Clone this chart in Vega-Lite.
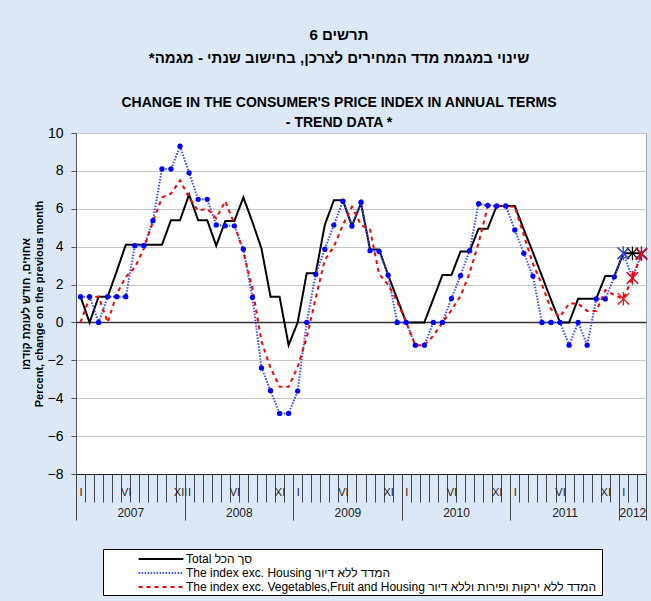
{
  "$schema": "https://vega.github.io/schema/vega-lite/v6.json",
  "width": 570,
  "height": 341,
  "autosize": {"type": "none"},
  "padding": {"left": 76, "top": 133, "right": 5, "bottom": 127},
  "background": "#dce8f6",
  "config": {
    "font": "Liberation Sans",
    "view": {"fill": "white", "stroke": "#a6a6a6"},
    "axisY": {
      "values": [-8,-6,-4,-2,0,2,4,6,8,10],
      "tickCount": 10,
      "labelOverlap": false,
      "labelSeparation": 0
    }
  },
  "title": {
    "text": ["תרשים 6", "שינוי במגמת מדד המחירים לצרכן, בחישוב שנתי - מגמה*\u200f"],
    "subtitle": ["CHANGE IN THE CONSUMER'S PRICE INDEX IN ANNUAL TERMS", "- TREND DATA *"],
    "anchor": "middle",
    "dx": -22,
    "fontSize": 15,
    "fontWeight": "bold",
    "lineHeight": 23,
    "color": "black",
    "subtitleFontSize": 14,
    "subtitleFontWeight": "bold",
    "subtitleLineHeight": 20,
    "subtitlePadding": 30,
    "subtitleColor": "black",
    "offset": -4
  },
  "data": {"values": [
    {"i":0,"s":"T","v":1.36},{"i":1,"s":"T","v":0},{"i":2,"s":"T","v":1.36},{"i":3,"s":"T","v":1.36},{"i":4,"s":"T","v":2.7},{"i":5,"s":"T","v":4.1},{"i":6,"s":"T","v":4.1},{"i":7,"s":"T","v":4.1},{"i":8,"s":"T","v":4.1},{"i":9,"s":"T","v":4.1},
    {"i":10,"s":"T","v":5.4},{"i":11,"s":"T","v":5.4},{"i":12,"s":"T","v":6.75},{"i":13,"s":"T","v":5.4},{"i":14,"s":"T","v":5.4},{"i":15,"s":"T","v":4.05},{"i":16,"s":"T","v":5.35},{"i":17,"s":"T","v":5.35},{"i":18,"s":"T","v":6.6},{"i":19,"s":"T","v":5.3},
    {"i":20,"s":"T","v":3.9},{"i":21,"s":"T","v":1.36},{"i":22,"s":"T","v":1.36},{"i":23,"s":"T","v":-1.2},{"i":24,"s":"T","v":0},{"i":25,"s":"T","v":2.6},{"i":26,"s":"T","v":2.6},{"i":27,"s":"T","v":5.15},{"i":28,"s":"T","v":6.45},{"i":29,"s":"T","v":6.45},
    {"i":30,"s":"T","v":5.1},{"i":31,"s":"T","v":6.3},{"i":32,"s":"T","v":3.85},{"i":33,"s":"T","v":3.85},{"i":34,"s":"T","v":2.5},{"i":35,"s":"T","v":1.25},{"i":36,"s":"T","v":0},{"i":37,"s":"T","v":0},{"i":38,"s":"T","v":0},{"i":39,"s":"T","v":1.25},
    {"i":40,"s":"T","v":2.5},{"i":41,"s":"T","v":2.5},{"i":42,"s":"T","v":3.75},{"i":43,"s":"T","v":3.75},{"i":44,"s":"T","v":4.95},{"i":45,"s":"T","v":4.95},{"i":46,"s":"T","v":6.15},{"i":47,"s":"T","v":6.15},{"i":48,"s":"T","v":6.15},{"i":49,"s":"T","v":4.9},
    {"i":50,"s":"T","v":3.7},{"i":51,"s":"T","v":2.45},{"i":52,"s":"T","v":1.2},{"i":53,"s":"T","v":0},{"i":54,"s":"T","v":0},{"i":55,"s":"T","v":1.25},{"i":56,"s":"T","v":1.25},{"i":57,"s":"T","v":1.25},{"i":58,"s":"T","v":2.45},{"i":59,"s":"T","v":2.45},
    {"i":60,"s":"T","v":3.65},{"i":61,"s":"T","v":3.65},{"i":62,"s":"T","v":3.65},
    {"i":0,"s":"H","v":1.36},{"i":1,"s":"H","v":1.36},{"i":2,"s":"H","v":0},{"i":3,"s":"H","v":1.36},{"i":4,"s":"H","v":1.36},{"i":5,"s":"H","v":1.36},{"i":6,"s":"H","v":4.05},{"i":7,"s":"H","v":4.05},{"i":8,"s":"H","v":5.37},{"i":9,"s":"H","v":8.1},
    {"i":10,"s":"H","v":8.1},{"i":11,"s":"H","v":9.3},{"i":12,"s":"H","v":7.9},{"i":13,"s":"H","v":6.5},{"i":14,"s":"H","v":6.5},{"i":15,"s":"H","v":5.15},{"i":16,"s":"H","v":5.1},{"i":17,"s":"H","v":5.1},{"i":18,"s":"H","v":3.87},{"i":19,"s":"H","v":1.32},
    {"i":20,"s":"H","v":-2.4},{"i":21,"s":"H","v":-3.6},{"i":22,"s":"H","v":-4.8},{"i":23,"s":"H","v":-4.8},{"i":24,"s":"H","v":-3.62},{"i":25,"s":"H","v":0},{"i":26,"s":"H","v":2.55},{"i":27,"s":"H","v":3.87},{"i":28,"s":"H","v":5.14},{"i":29,"s":"H","v":6.4},
    {"i":30,"s":"H","v":5.09},{"i":31,"s":"H","v":6.35},{"i":32,"s":"H","v":3.79},{"i":33,"s":"H","v":3.75},{"i":34,"s":"H","v":2.5},{"i":35,"s":"H","v":0},{"i":36,"s":"H","v":0},{"i":37,"s":"H","v":-1.2},{"i":38,"s":"H","v":-1.2},{"i":39,"s":"H","v":0},
    {"i":40,"s":"H","v":0},{"i":41,"s":"H","v":1.27},{"i":42,"s":"H","v":2.47},{"i":43,"s":"H","v":3.79},{"i":44,"s":"H","v":6.27},{"i":45,"s":"H","v":6.18},{"i":46,"s":"H","v":6.15},{"i":47,"s":"H","v":6.15},{"i":48,"s":"H","v":4.88},{"i":49,"s":"H","v":3.65},
    {"i":50,"s":"H","v":2.45},{"i":51,"s":"H","v":0},{"i":52,"s":"H","v":0},{"i":53,"s":"H","v":0},{"i":54,"s":"H","v":-1.2},{"i":55,"s":"H","v":0},{"i":56,"s":"H","v":-1.2},{"i":57,"s":"H","v":1.24},{"i":58,"s":"H","v":1.24},{"i":59,"s":"H","v":2.41},
    {"i":60,"s":"H","v":3.65},{"i":61,"s":"H","v":2.35},{"i":62,"s":"H","v":3.6},
    {"i":0,"s":"V","v":0},{"i":1,"s":"V","v":1.3},{"i":2,"s":"V","v":1.36},{"i":3,"s":"V","v":0},{"i":4,"s":"V","v":1.5},{"i":5,"s":"V","v":2.4},{"i":6,"s":"V","v":2.9},{"i":7,"s":"V","v":3.9},{"i":8,"s":"V","v":5.3},{"i":9,"s":"V","v":6.6},
    {"i":10,"s":"V","v":6.8},{"i":11,"s":"V","v":7.5},{"i":12,"s":"V","v":6.6},{"i":13,"s":"V","v":5.9},{"i":14,"s":"V","v":6.0},{"i":15,"s":"V","v":5.5},{"i":16,"s":"V","v":6.4},{"i":17,"s":"V","v":5.2},{"i":18,"s":"V","v":3.7},{"i":19,"s":"V","v":1.8},
    {"i":20,"s":"V","v":-1.0},{"i":21,"s":"V","v":-2.4},{"i":22,"s":"V","v":-3.4},{"i":23,"s":"V","v":-3.4},{"i":24,"s":"V","v":-2.35},{"i":25,"s":"V","v":-0.8},{"i":26,"s":"V","v":1.3},{"i":27,"s":"V","v":3.3},{"i":28,"s":"V","v":4.0},{"i":29,"s":"V","v":5.15},
    {"i":30,"s":"V","v":6.1},{"i":31,"s":"V","v":5.14},{"i":32,"s":"V","v":4.9},{"i":33,"s":"V","v":2.55},{"i":34,"s":"V","v":2.0},{"i":35,"s":"V","v":1.1},{"i":36,"s":"V","v":0},{"i":37,"s":"V","v":-1.2},{"i":38,"s":"V","v":-1.2},{"i":39,"s":"V","v":-0.7},
    {"i":40,"s":"V","v":0},{"i":41,"s":"V","v":0.65},{"i":42,"s":"V","v":1.4},{"i":43,"s":"V","v":2.6},{"i":44,"s":"V","v":4.2},{"i":45,"s":"V","v":6.1},{"i":46,"s":"V","v":6.15},{"i":47,"s":"V","v":6.15},{"i":48,"s":"V","v":6.1},{"i":49,"s":"V","v":4.6},
    {"i":50,"s":"V","v":3.1},{"i":51,"s":"V","v":2.0},{"i":52,"s":"V","v":0.7},{"i":53,"s":"V","v":0.3},{"i":54,"s":"V","v":1.0},{"i":55,"s":"V","v":1.0},{"i":56,"s":"V","v":0.6},{"i":57,"s":"V","v":0.6},{"i":58,"s":"V","v":1.7},{"i":59,"s":"V","v":1.45},
    {"i":60,"s":"V","v":1.25},{"i":61,"s":"V","v":2.35},{"i":62,"s":"V","v":3.6}
  ]},
  "layer": [
    {
      "mark": {"type": "line", "strokeWidth": 2},
      "encoding": {
        "x": {
          "field": "i", "type": "quantitative",
          "scale": {"domain": [-0.5, 62.5], "nice": false, "zero": false},
          "axis": {
            "values": [-0.5,0.5,1.5,2.5,3.5,4.5,5.5,6.5,7.5,8.5,9.5,10.5,11.5,12.5,13.5,14.5,15.5,16.5,17.5,18.5,19.5,20.5,21.5,22.5,23.5,24.5,25.5,26.5,27.5,28.5,29.5,30.5,31.5,32.5,33.5,34.5,35.5,36.5,37.5,38.5,39.5,40.5,41.5,42.5,43.5,44.5,45.5,46.5,47.5,48.5,49.5,50.5,51.5,52.5,53.5,54.5,55.5,56.5,57.5,58.5,59.5,60.5,61.5,62.5,0,5,11,12,17,22,24,29,34,36,41,46,48,53,58,60],
            "title": null,
            "grid": false,
            "domain": true,
            "domainColor": "#222222",
            "tickSize": 28,
            "tickColor": "#444444",
            "tickOpacity": {"condition": {"test": "datum.value % 1 == 0", "value": 0}, "value": 1},
            "labelExpr": "indexof([0,12,24,36,48,60], datum.value) >= 0 ? 'I' : indexof([5,17,29,41,53], datum.value) >= 0 ? 'VI' : datum.value == 11 ? 'XII' : indexof([22,34,46,58], datum.value) >= 0 ? 'XI' : ''",
            "labelPadding": -16,
            "labelFontSize": 11,
            "labelColor": "#222222",
            "labelOverlap": false,
            "labelFlush": false,
            "labelBound": false
          }
        },
        "y": {
          "field": "v", "type": "quantitative",
          "scale": {"domain": [-8, 10], "nice": false},
          "axis": {
            "values": [-8,-6,-4,-2,0,2,4,6,8,10],
            "title": ["אחוזים, חודש לעומת קודמו", "Percent, change on the previous month"],
            "titleFontSize": 11,
            "titleFontWeight": "bold",
            "titleColor": "black",
            "titleLineHeight": 13,
            "titlePadding": 3,
            "grid": true,
            "gridColor": {"condition": {"test": "datum.value == 0", "value": "#333333"}, "value": "#c8c8c8"},
            "gridWidth": {"condition": {"test": "datum.value == 0", "value": 1.5}, "value": 1},
            "domainColor": "#555555",
            "tickColor": "#555555",
            "tickSize": 5,
            "labelFontSize": 14,
            "labelColor": "black",
            "labelPadding": 8,
            "labelOverlap": false,
            "labelFlush": false,
            "labelBound": false
          }
        },
        "color": {
          "field": "s", "type": "nominal",
          "scale": {"domain": ["T", "H", "V"], "range": ["#000000", "#3b4bff", "#ff0000"]},
          "legend": {
            "title": null,
            "orient": "none",
            "legendX": 27,
            "legendY": 416,
            "direction": "vertical",
            "symbolType": "M-3.2,0L3.2,0",
            "symbolSize": 196,
            "symbolStrokeWidth": 2,
            "symbolOffset": 48,
            "labelFontSize": 12,
            "labelColor": "black",
            "labelLimit": 600,
            "labelOffset": 17,
            "labelExpr": "datum.label == 'T' ? 'Total  סך הכל' : datum.label == 'H' ? 'The index exc. Housing  המדד ללא דיור' : 'The index exc. Vegetables,Fruit and Housing  המדד ללא ירקות ופירות וללא דיור'",
            "fillColor": "white",
            "strokeColor": "black",
            "padding": 2,
            "rowPadding": 0
          }
        },
        "strokeDash": {
          "field": "s", "type": "nominal",
          "scale": {"domain": ["T", "H", "V"], "range": [[1, 0], [1.5, 1.5], [4, 4]]}
        }
      }
    },
    {
      "transform": [{"filter": "datum.s == 'H' && datum.i < 60"}],
      "mark": {"type": "point", "filled": true, "shape": "circle", "size": 28, "color": "#0000ff", "opacity": 1},
      "encoding": {
        "x": {
          "field": "i", "type": "quantitative",
          "axis": {
            "orient": "bottom",
            "values": [-0.5, 11.5, 23.5, 35.5, 47.5, 59.5, 62.5, 5.5, 17.5, 29.5, 41.5, 53.5, 61],
            "title": null,
            "grid": false,
            "domain": false,
            "tickSize": 46,
            "tickColor": "#444444",
            "tickOpacity": {"condition": {"test": "indexof([5.5, 17.5, 29.5, 41.5, 53.5, 61], datum.value) >= 0", "value": 0}, "value": 1},
            "labelExpr": "datum.value == 5.5 ? '2007' : datum.value == 17.5 ? '2008' : datum.value == 29.5 ? '2009' : datum.value == 41.5 ? '2010' : datum.value == 53.5 ? '2011' : datum.value == 61 ? '2012' : ''",
            "labelPadding": -13,
            "labelFontSize": 12,
            "labelColor": "#222222",
            "labelOverlap": false,
            "labelFlush": false,
            "labelBound": false
          }
        },
        "y": {
          "field": "v", "type": "quantitative",
          "axis": {
            "values": [-8,-6,-4,-2,0,2,4,6,8,10],
            "labelOverlap": false
          }
        }
      }
    },
    {
      "transform": [{"filter": "datum.i >= 60"}],
      "mark": {"type": "point", "shape": "M-1,-1L1,1M-1,1L1,-1M0,-1.2L0,1.2", "filled": false, "size": 130, "strokeWidth": 1.2, "opacity": 1},
      "encoding": {
        "x": {"field": "i", "type": "quantitative", "axis": null},
        "y": {
          "field": "v", "type": "quantitative",
          "axis": {
            "values": [-8,-6,-4,-2,0,2,4,6,8,10],
            "labelOverlap": false
          }
        },
        "color": {"field": "s", "type": "nominal", "legend": null}
      }
    }
  ],
  "resolve": {"axis": {"x": "independent"}}
}
